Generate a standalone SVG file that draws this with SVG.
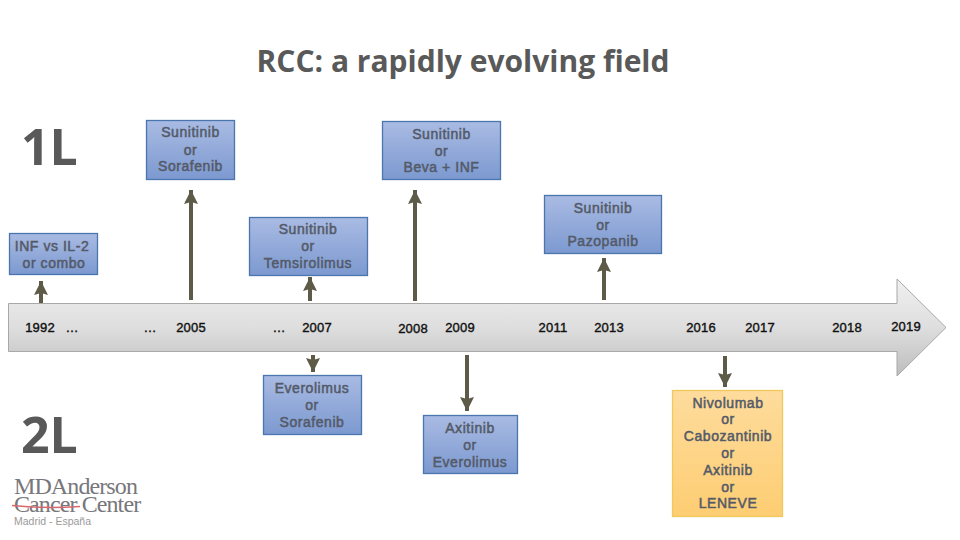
<svg xmlns="http://www.w3.org/2000/svg" width="960" height="540" viewBox="0 0 960 540">
<style>
.b{stroke:#4a76ad;stroke-width:1.3}
.t{font:14px "Liberation Sans",Arial,sans-serif;fill:#545a68;stroke:#545a68;stroke-width:.5;text-anchor:middle;letter-spacing:.55px}
.o{fill:#5e5a48}
.y{font:13px "Liberation Sans",Arial,sans-serif;fill:#111;stroke:#111;stroke-width:.4;text-anchor:middle;letter-spacing:.2px}
.h{font-family:"Open Sans","Noto Sans",sans-serif;font-weight:700;fill:#595959}
.l{font-family:"Liberation Serif",serif;fill:#77777b;letter-spacing:-.9px}
</style>
<defs>
<linearGradient id="bl" x1="0" y1="0" x2="0" y2="1"><stop offset="0" stop-color="#a9bbe3"/><stop offset="1" stop-color="#7c99d0"/></linearGradient>
<linearGradient id="or" x1="0" y1="0" x2="0" y2="1"><stop offset="0" stop-color="#fedc9d"/><stop offset="1" stop-color="#fdcd72"/></linearGradient>
<linearGradient id="ar" x1="0" y1="0" x2="0" y2="1"><stop offset="0" stop-color="#f0f0f0"/><stop offset=".5" stop-color="#dedede"/><stop offset="1" stop-color="#bdbdbd"/></linearGradient>
<marker id="ah" markerUnits="userSpaceOnUse" markerWidth="15" markerHeight="15" refX="14" refY="7.500" orient="auto"><path class="o" d="M0 0.500 14 7.500 0 14.500 2 7.500Z"/></marker>
</defs>
<rect width="960" height="540" fill="#fff"/>
<text class="h" x="463" y="72" font-size="30" text-anchor="middle">RCC: a rapidly evolving field</text>
<text class="h" x="21" y="165" font-size="50">1L</text>
<text class="h" x="21" y="453" font-size="50">2L</text>
<g id="timeline">
<path d="M8.500 303.500H897V279L946 327.500 897 376V351.500H8.500Z" fill="url(#ar)" stroke="#a8a8a8" stroke-width="1"/>
<text class="y" x="40" y="332">1992</text><text class="y" x="72" y="332">…</text>
<text class="y" x="150" y="332">…</text><text class="y" x="191" y="332">2005</text>
<text class="y" x="279" y="332">…</text><text class="y" x="317" y="332">2007</text>
<text class="y" x="413" y="333">2008</text><text class="y" x="460" y="332">2009</text>
<text class="y" x="553" y="332">2011</text><text class="y" x="609" y="332">2013</text>
<text class="y" x="701" y="332">2016</text><text class="y" x="760" y="332">2017</text>
<text class="y" x="847" y="332">2018</text><text class="y" x="906" y="331">2019</text>
</g>
<g id="connectors" stroke="#5e5a48" stroke-width="4" fill="none">
<path d="M41 303V281" marker-end="url(#ah)"/>
<path d="M191 300V190" marker-end="url(#ah)"/>
<path d="M415 301V190" marker-end="url(#ah)"/>
<path d="M604 300V258" marker-end="url(#ah)"/>
<path d="M310 301V277" marker-end="url(#ah)"/>
<path d="M313 355V372" marker-end="url(#ah)"/>
<path d="M467 355V411" marker-end="url(#ah)"/>
<path d="M725 356V387" marker-end="url(#ah)"/>
</g>
<g id="n-sorafenib"><rect class="b" x="146.500" y="120.500" width="88" height="59" fill="url(#bl)"/><text class="t" x="190.500" y="137">Sunitinib</text><text class="t" x="190.500" y="155">or</text><text class="t" x="190.500" y="171">Sorafenib</text></g>
<g id="n-beva"><rect class="b" x="382.500" y="121.500" width="118" height="58" fill="url(#bl)"/><text class="t" x="441.500" y="139">Sunitinib</text><text class="t" x="441.500" y="156">or</text><text class="t" x="441.500" y="172">Beva + INF</text></g>
<g id="n-pazopanib"><rect class="b" x="544.500" y="195.500" width="117" height="58" fill="url(#bl)"/><text class="t" x="603" y="213">Sunitinib</text><text class="t" x="603" y="230">or</text><text class="t" x="603" y="246">Pazopanib</text></g>
<g id="n-temsirolimus"><rect class="b" x="249.500" y="217.500" width="118" height="58" fill="url(#bl)"/><text class="t" x="308" y="234">Sunitinib</text><text class="t" x="308" y="251">or</text><text class="t" x="308" y="268">Temsirolimus</text></g>
<g id="n-inf"><rect class="b" x="9.500" y="233.500" width="88" height="41" fill="url(#bl)"/><text class="t" x="52" y="251">INF vs IL-2</text><text class="t" x="54" y="268">or combo</text></g>
<g id="n-everolimus"><rect class="b" x="263.500" y="375.500" width="98" height="59" fill="url(#bl)"/><text class="t" x="312" y="393">Everolimus</text><text class="t" x="312" y="410">or</text><text class="t" x="312" y="427">Sorafenib</text></g>
<g id="n-axitinib"><rect class="b" x="423.500" y="415.500" width="94" height="58" fill="url(#bl)"/><text class="t" x="470" y="433">Axitinib</text><text class="t" x="470" y="450">or</text><text class="t" x="470" y="467">Everolimus</text></g>
<g id="n-nivolumab"><rect x="672.500" y="390.500" width="110" height="126" fill="url(#or)" stroke="#f0c95c" stroke-width="1.300"/>
<text class="t" x="728" y="408">Nivolumab</text><text class="t" x="728" y="424">or</text><text class="t" x="728" y="441">Cabozantinib</text><text class="t" x="728" y="458">or</text><text class="t" x="728" y="475">Axitinib</text><text class="t" x="728" y="492">or</text><text class="t" x="728" y="508">LENEVE</text></g>
<g id="logo">
<text class="l" font-size="24"><tspan x="14" y="494">MDAnderson</tspan><tspan x="14" y="512">Cancer Center</tspan></text>
<path d="M12 505.500Q45 509 80 506.500" stroke="#d9696f" stroke-width="1.500" fill="none"/>
<text x="14" y="525" font-family="Liberation Sans,sans-serif" font-size="10.500" fill="#9a9a9a">Madrid - España</text>
</g>
</svg>
